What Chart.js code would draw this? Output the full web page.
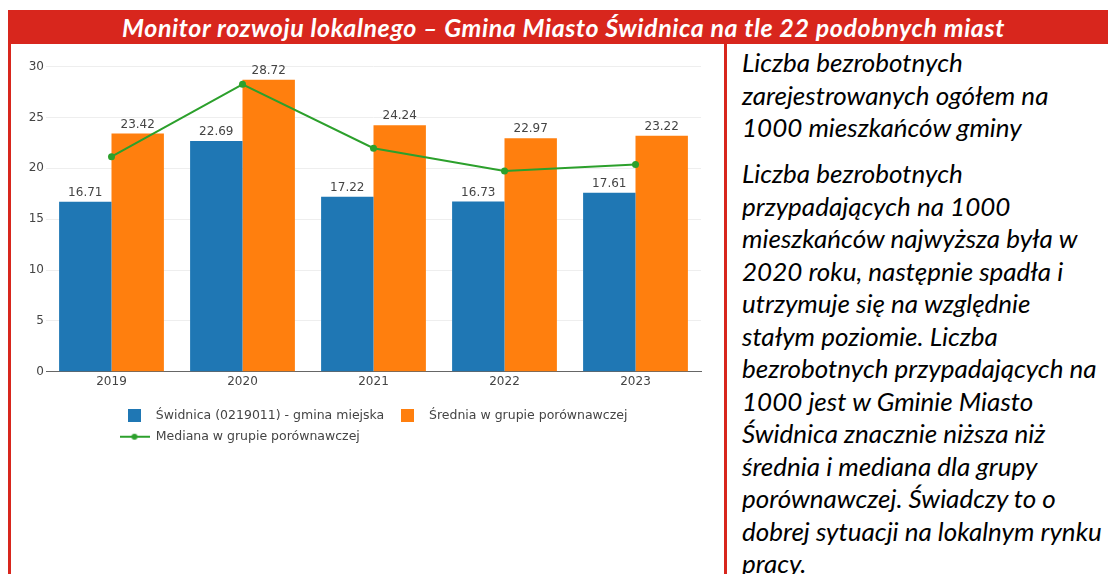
<!DOCTYPE html>
<html>
<head>
<meta charset="utf-8">
<script src="https://cdn.jsdelivr.net/npm/chart.js@4.4.1/dist/chart.umd.min.js"></script>
<style>
	html, body { margin: 0; padding: 0; background: #fff; width: 1108px; height: 574px; overflow: hidden; }
	#header {
		position: absolute; left: 8px; top: 10px; width: 1089px; height: 34px; padding-left: 11px;
		background: #d8261d; color: #fff; text-align: center;
		font: italic bold 25px Lato, sans-serif; letter-spacing: 0.6px; line-height: 34px; white-space: nowrap;
	}
	.redline { position: absolute; top: 44px; height: 530px; background: #d8261d; }
	#chart { position: absolute; left: 10px; top: 44px; }
	#note {
		position: absolute; left: 742px; top: 46px; color: #000;
		font: italic 26px Lato, sans-serif; line-height: 32.5px; white-space: nowrap;
	}
	#note p { margin: 0 0 13.5px 0; }
</style>
</head>
<body>
<div id="header">Monitor rozwoju lokalnego – Gmina Miasto Świdnica na tle 22 podobnych miast</div>
<div class="redline" style="left:8px;width:2.5px;"></div>
<div class="redline" style="left:724px;width:3px;"></div>
<canvas id="chart" width="714" height="530"></canvas>
<div id="note">
	<p>Liczba bezrobotnych<br>zarejestrowanych ogółem na<br>1000 mieszkańców gminy</p>
	<p>Liczba bezrobotnych<br>przypadających na 1000<br>mieszkańców najwyższa była w<br>2020 roku, następnie spadła i<br>utrzymuje się na względnie<br>stałym poziomie. Liczba<br>bezrobotnych przypadających na<br>1000 jest w Gminie Miasto<br>Świdnica znacznie niższa niż<br>średnia i mediana dla grupy<br>porównawczej. Świadczy to o<br>dobrej sytuacji na lokalnym rynku<br>pracy.</p>
</div>
<script>
(function () {
	'use strict';

	/* ---------- Data ---------- */

	var years = ['2019', '2020', '2021', '2022', '2023'];
	var swidnica = [16.71, 22.69, 17.22, 16.73, 17.61];
	var srednia = [23.42, 28.72, 24.24, 22.97, 23.22];
	var mediana = [21.15, 28.27, 21.98, 19.74, 20.39];

	var LABELS = [
		'Świdnica (0219011) - gmina miejska',
		'Średnia w grupie porównawczej',
		'Mediana w grupie porównawczej',
	];

	var COLORS = {
		blue: '#1f77b4',
		orange: '#ff7f0e',
		green: '#2ca02c',
		text: '#444',
		grid: '#eeeeee',
	};

	var FONT = { family: '"DejaVu Sans", Verdana, sans-serif', size: 12 };
	var LEGEND_FONT = { family: '"DejaVu Sans", Verdana, sans-serif', size: 12.5 };

	/* ---------- Legend icons ---------- */

	function squareIcon(color) {
		var c = document.createElement('canvas');
		c.width = 13;
		c.height = 13;
		var g = c.getContext('2d');
		g.fillStyle = color;
		g.fillRect(0, 0, 13, 13);
		return c;
	}

	function lineIcon(color) {
		var c = document.createElement('canvas');
		c.width = 30;
		c.height = 8;
		var g = c.getContext('2d');
		g.strokeStyle = color;
		g.lineWidth = 2;
		g.beginPath();
		g.moveTo(0, 4);
		g.lineTo(30, 4);
		g.stroke();
		g.fillStyle = color;
		g.beginPath();
		g.arc(15, 4, 3, 0, Math.PI * 2);
		g.fill();
		return c;
	}

	var ICONS = [squareIcon(COLORS.blue), squareIcon(COLORS.orange), lineIcon(COLORS.green)];

	/* ---------- Plugins ---------- */

	// Value labels above the bars.
	var barLabels = {
		id: 'barLabels',
		afterDatasetsDraw: function (chart) {
			var ctx = chart.ctx;
			ctx.save();
			ctx.font = FONT.size + 'px ' + FONT.family;
			ctx.fillStyle = COLORS.text;
			ctx.textAlign = 'center';
			ctx.textBaseline = 'bottom';
			chart.data.datasets.forEach(function (ds, i) {
				if (ds.type !== 'bar') {
					return;
				}
				chart.getDatasetMeta(i).data.forEach(function (bar, j) {
					ctx.fillText(ds.data[j].toFixed(2), bar.x, bar.y - 3);
				});
			});
			ctx.restore();
		},
	};

	// Place the legend block like the original (left aligned under the plot).
	var legendPlace = {
		id: 'legendPlace',
		afterLayout: function (chart) {
			var lg = chart.legend;
			if (!lg) {
				return;
			}
			lg.left = 101;
			lg.top = 357;
		},
	};

	/* ---------- Chart ---------- */

	new Chart(document.getElementById('chart'), {
		data: {
			labels: years,
			datasets: [
				{
					type: 'bar',
					label: LABELS[0],
					data: swidnica,
					backgroundColor: COLORS.blue,
					order: 1,
				},
				{
					type: 'bar',
					label: LABELS[1],
					data: srednia,
					backgroundColor: COLORS.orange,
					order: 1,
				},
				{
					type: 'line',
					label: LABELS[2],
					data: mediana,
					borderColor: COLORS.green,
					backgroundColor: COLORS.green,
					borderWidth: 2,
					pointRadius: 3.5,
					pointBorderWidth: 0,
					pointBackgroundColor: COLORS.green,
					tension: 0,
					fill: false,
					order: 0,
				},
			],
		},
		options: {
			responsive: false,
			animation: false,
			datasets: {
				bar: { barPercentage: 1, categoryPercentage: 0.8 },
			},
			layout: { padding: { top: 22.7, right: 23, left: 0, bottom: 128.3 } },
			scales: {
				x: {
					grid: { display: false, drawTicks: false },
					border: { display: true, color: '#666', width: 1 },
					ticks: { color: COLORS.text, font: FONT, padding: 3 },
					afterFit: function (scale) {
						scale.height = 22;
					},
				},
				y: {
					min: 0,
					max: 30,
					ticks: { stepSize: 5, color: COLORS.text, font: FONT, padding: 2 },
					grid: { color: COLORS.grid, lineWidth: 1, drawTicks: false },
					border: { display: false },
					afterFit: function (scale) {
						scale.width = 36;
					},
				},
			},
			plugins: {
				tooltip: { enabled: false },
				legend: {
					position: 'bottom',
					align: 'start',
					labels: {
						usePointStyle: true,
						pointStyleWidth: 30,
						padding: 8.5,
						color: COLORS.text,
						font: LEGEND_FONT,
						sort: function (a, b) {
							return a.datasetIndex - b.datasetIndex;
						},
						generateLabels: function (chart) {
							var items = Chart.defaults.plugins.legend.labels.generateLabels(chart);
							items.forEach(function (it) {
								it.pointStyle = ICONS[it.datasetIndex];
							});
							return items;
						},
					},
				},
			},
		},
		plugins: [barLabels, legendPlace],
	});
})();
</script>
</body>
</html>
